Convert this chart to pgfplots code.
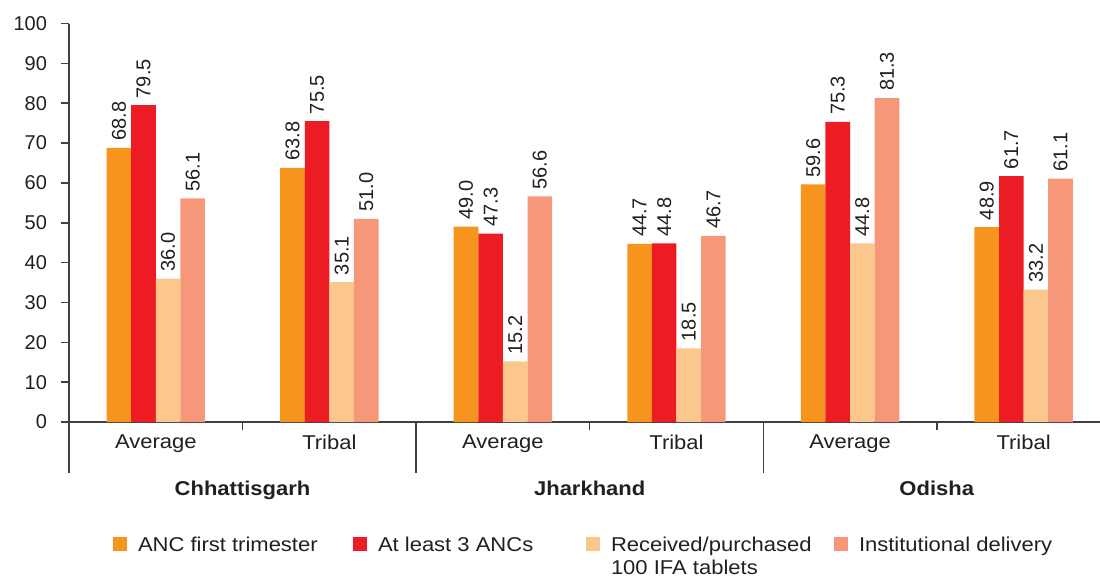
\documentclass[border=0pt]{standalone}
\usepackage{fontspec}
\setmainfont{Liberation Sans}
\newfontfamily\widefont{Liberation Sans}[FakeStretch=1.1]
\usepackage{pgfplots}
\usepackage{pgfplotstable}
\pgfplotsset{compat=1.18}

\definecolor{ancfirst}{HTML}{F7941D}
\definecolor{ancthree}{HTML}{ED1C24}
\definecolor{ifa}{HTML}{FBC78D}
\definecolor{inst}{HTML}{F7977A}
\definecolor{txt}{HTML}{231F20}
\definecolor{axisgray}{HTML}{404040}

% Maternal care indicators (%), by state and population group
\pgfplotstableread{
x anc1 anc3 ifa inst
0 68.8 79.5 36.0 56.1
1 63.8 75.5 35.1 51.0
2 49.0 47.3 15.2 56.6
3 44.7 44.8 18.5 46.7
4 59.6 75.3 44.8 81.3
5 48.9 61.7 33.2 61.1
}\datatable

\newcommand{\lbl}{\fontsize{10}{12}\selectfont}
\newcommand{\wlbl}{\widefont\fontsize{10}{12}\selectfont}

\begin{document}
\begin{tikzpicture}[x=0.5pt,y=0.5pt]
\path[use as bounding box] (-69,-157) rectangle (1031,422);
\begin{axis}[
  at={(0,0)}, anchor=south west,
  scale only axis, width=515.5pt, height=199.25pt,
  xmin=-0.5, xmax=5.44, ymin=0, ymax=100,
  axis lines*=left,
  axis line style={axisgray, line width=0.75pt},
  tick align=outside,
  major tick length=4pt,
  minor tick length=25.5pt,
  tick style={axisgray, line width=0.75pt},
  ytick={0,10,...,100},
  yticklabel style={xshift=-3.5pt},
  xtick={0,...,5},
  xticklabels={Average,Tribal,Average,Tribal,Average,Tribal},
  xticklabel style={font=\wlbl, yshift=1pt},
  major x tick style={draw=none},
  minor xtick={-0.5,1.5,3.5},
  extra x ticks={0.5,2.5,4.5},
  extra x tick labels={\textbf{Chhattisgarh},\textbf{Jharkhand},\textbf{Odisha}},
  extra x tick style={major x tick style={draw=axisgray},
    xticklabel style={yshift=-23pt}},
  tick label style={font=\lbl, text=txt},
  /pgf/number format/assume math mode=true,
  ybar=0pt, bar width=12.3pt,
  nodes near coords={\pgfmathprintnumber[fixed,fixed zerofill,precision=1]{\pgfplotspointmeta}},
  every node near coord/.append style={rotate=90, anchor=west, font=\lbl, text=txt},
  clip=false,
  legend columns=4,
  legend image code/.code={\fill[#1, draw=none] (0pt,0.2pt) rectangle (7pt,7.2pt);},
  legend style={
    at={(0.0427,-0.2836)}, anchor=north west,
    draw=none, fill=none, inner sep=0pt, outer sep=0pt,
    /tikz/every odd column/.style={column sep=5.5pt},
    /tikz/every even column/.style={column sep=0pt},
    nodes={inner sep=0pt, anchor=base west, text=txt, font=\wlbl},
  },
]
\addplot[fill=ancfirst, draw=none] table[x=x, y=anc1] {\datatable};
\addlegendentry{\makebox[107.5pt][l]{ANC first trimester}}
\addplot[fill=ancthree, draw=none] table[x=x, y=anc3] {\datatable};
\addlegendentry{\makebox[104pt][l]{At least 3 ANCs}}
\addplot[fill=ifa, draw=none] table[x=x, y=ifa] {\datatable};
\addlegendentry{\makebox[111.5pt][l]{\renewcommand\arraystretch{0.96}\begin{tabular}[t]{@{}l@{}}Received/purchased\\100 IFA tablets\end{tabular}}}
\addplot[fill=inst, draw=none] table[x=x, y=inst] {\datatable};
\addlegendentry{Institutional delivery}
\end{axis}
\end{tikzpicture}
\end{document}
